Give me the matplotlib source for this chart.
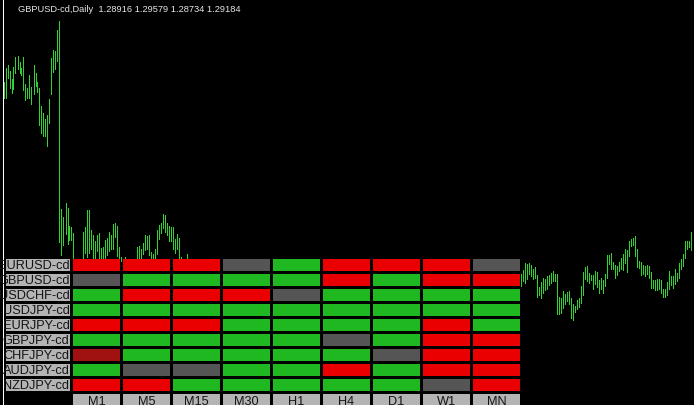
import numpy as np
import matplotlib
matplotlib.use("Agg")
import matplotlib.pyplot as plt
from matplotlib.patches import Rectangle

# ---------------- data ----------------
title_text = "GBPUSD-cd,Daily  1.28916 1.29579 1.28734 1.29184"

nan = float("nan")
# daily bars, left visible segment (bar index 0..92)
left_high = [1.3685, 1.3755, 1.3770, 1.3740, 1.3700, 1.3760, 1.3810, 1.3815, 1.3785, 1.3755,
             1.3810, 1.3675, 1.3655, 1.3720, 1.3660, 1.3770, 1.3730, 1.3685, 1.3655, 1.3565,
             1.3530, 1.3500, 1.3520, 1.3600, 1.3805, 1.3845, 1.3840, 1.3945, 1.3990, 1.3050,
             1.3010, 1.3080, 1.3055, 1.2965, 1.2960, 1.2930, nan, nan, nan, nan,
             1.2935, 1.2960, 1.3045, 1.3045, 1.2945, 1.2920, 1.2890, 1.2920, 1.2930, 1.2855,
             1.2860, 1.2895, 1.2905, 1.2935, 1.2920, 1.2975, 1.2980, 1.2965, 1.2860, 1.2810,
             nan, 1.2810, nan, nan, nan, nan, nan, 1.2860, 1.2865, 1.2850,
             1.2880, 1.2920, 1.2915, 1.2920, 1.2835, 1.2825, 1.2850, 1.2945, 1.2970, 1.2980,
             1.3025, 1.3020, 1.2980, 1.2965, 1.2960, 1.2960, 1.2900, 1.2925, 1.2905, 1.2810,
             nan, nan, 1.2825]
left_low = [1.3605, 1.3605, 1.3705, 1.3655, 1.3630, 1.3650, 1.3730, 1.3750, 1.3730, 1.3720,
            1.3645, 1.3595, 1.3605, 1.3605, 1.3575, 1.3625, 1.3665, 1.3635, 1.3470, 1.3430,
            1.3415, 1.3415, 1.3365, 1.3480, 1.3625, 1.3735, 1.3750, 1.3790, 1.2885, 1.2820,
            1.2870, 1.2925, 1.2875, 1.2895, 1.2895, 1.2790, nan, nan, nan, nan,
            1.2790, 1.2830, 1.2810, 1.2830, 1.2850, 1.2790, 1.2790, 1.2840, 1.2790, 1.2790,
            1.2790, 1.2790, 1.2820, 1.2840, 1.2850, 1.2850, 1.2910, 1.2815, 1.2790, 1.2790,
            nan, 1.2790, nan, nan, nan, nan, nan, 1.2790, 1.2790, 1.2790,
            1.2825, 1.2845, 1.2850, 1.2820, 1.2790, 1.2790, 1.2790, 1.2825, 1.2900, 1.2930,
            1.2955, 1.2935, 1.2920, 1.2890, 1.2890, 1.2850, 1.2830, 1.2850, 1.2790, 1.2790,
            nan, nan, 1.2790]
hidden_count = 166          # bars 93..258 lie under the panel
# right visible segment (bar index 259..344)
right_high = [1.2725, 1.2745, 1.2780, 1.2775, 1.2780, 1.2770, 1.2750, 1.2760, 1.2720, 1.2660,
              1.2685, 1.2705, 1.2700, 1.2715, 1.2720, 1.2730, 1.2740, 1.2725, 1.2725, 1.2610,
              1.2605, 1.2640, 1.2625, 1.2635, 1.2640, 1.2605, 1.2575, 1.2565, 1.2595, 1.2605,
              1.2665, 1.2735, 1.2760, 1.2765, 1.2730, 1.2720, 1.2720, 1.2740, 1.2735, 1.2695,
              1.2705, 1.2695, 1.2725, 1.2820, 1.2820, 1.2830, 1.2785, 1.2770, 1.2765, 1.2785,
              1.2805, 1.2825, 1.2850, 1.2845, 1.2890, 1.2900, 1.2905, 1.2915, 1.2850, 1.2790,
              1.2785, 1.2770, 1.2765, 1.2770, 1.2765, 1.2735, 1.2695, 1.2695, 1.2700, 1.2700,
              1.2695, 1.2650, 1.2650, 1.2685, 1.2740, 1.2715, 1.2715, 1.2750, 1.2730, 1.2780,
              1.2800, 1.2825, 1.2890, 1.2890, 1.2890, 1.2935]
right_low = [1.2665, 1.2690, 1.2680, 1.2700, 1.2725, 1.2715, 1.2700, 1.2705, 1.2610, 1.2620,
             1.2605, 1.2630, 1.2645, 1.2650, 1.2670, 1.2680, 1.2690, 1.2690, 1.2525, 1.2525,
             1.2530, 1.2555, 1.2575, 1.2590, 1.2575, 1.2505, 1.2495, 1.2535, 1.2550, 1.2560,
             1.2580, 1.2620, 1.2700, 1.2690, 1.2680, 1.2695, 1.2650, 1.2675, 1.2660, 1.2630,
             1.2650, 1.2630, 1.2665, 1.2705, 1.2775, 1.2750, 1.2750, 1.2705, 1.2720, 1.2740,
             1.2750, 1.2745, 1.2780, 1.2735, 1.2815, 1.2865, 1.2870, 1.2815, 1.2760, 1.2755,
             1.2720, 1.2725, 1.2715, 1.2725, 1.2705, 1.2655, 1.2655, 1.2645, 1.2645, 1.2650,
             1.2630, 1.2610, 1.2610, 1.2620, 1.2650, 1.2670, 1.2655, 1.2675, 1.2690, 1.2705,
             1.2750, 1.2765, 1.2805, 1.2850, 1.2860, 1.2845]

pairs = ["EURUSD-cd", "GBPUSD-cd", "USDCHF-cd", "USDJPY-cd", "EURJPY-cd",
         "GBPJPY-cd", "CHFJPY-cd", "AUDJPY-cd", "NZDJPY-cd"]
timeframes = ["M1", "M5", "M15", "M30", "H1", "H4", "D1", "W1", "MN"]
# R = down, G = up, N = neutral, D = strong down
signals = [
    "RRRNGRRRN",
    "NGGGGRGRR",
    "GRRRNGGGG",
    "GGGGGGGGG",
    "RRRGGGGRG",
    "GGGGGNGRR",
    "DGGGGGNRR",
    "GNNGGRGRR",
    "RRGGGGGNR",
]

# ---------------- style ----------------
BG = "black"
BAR_COLOR = "#32d232"
SIG_COLORS = {"R": "#ea0000", "G": "#20b820", "N": "#555555", "D": "#a01212"}
LABEL_BG = "#b4b4b4"
LABEL_FG = "#141414"

highs = np.array(left_high + [nan] * hidden_count + right_high)
lows = np.array(left_low + [nan] * hidden_count + right_low)
idx = np.arange(len(highs))

W, H = 694, 406
fig = plt.figure(figsize=(W / 100, H / 100), dpi=100, facecolor=BG)

# price chart
ax = fig.add_axes([0, 0, 1, 1])
ax.set_facecolor(BG)
ax.vlines(idx, lows, highs, colors=BAR_COLOR, linewidth=0.55, antialiased=False)
ax.set_xlim(-1.75, 345.25)
ax.set_ylim(1.207, 1.41)
ax.axis("off")

# signal panel (column / row units)
ax2 = fig.add_axes([0, 0, 1, 1])
ax2.patch.set_alpha(0)
ax2.set_xlim(-73 / 50, (W - 73) / 50)
ax2.set_ylim((H - 260) / 15, -260 / 15)
ax2.axis("off")

ax2.axvline(-70.5 / 50, color="white", linewidth=0.7, antialiased=False)

cw, ch = 0.94, 0.8
for r, (pair, row) in enumerate(zip(pairs, signals)):
    for c, s in enumerate(row):
        ax2.add_patch(Rectangle((c, r), cw, ch, facecolor=SIG_COLORS[s],
                                edgecolor="none", antialiased=False))
    lab = Rectangle((-1.34, r), 1.28, ch, facecolor=LABEL_BG, edgecolor="none",
                    antialiased=False)
    ax2.add_patch(lab)
    t = ax2.text(-0.07, r + ch / 2 + 0.03, pair, ha="right", va="center",
                 fontsize=9.2, family="Liberation Sans", color=LABEL_FG)
    t.set_clip_path(lab)

hr = len(pairs)
for c, tf in enumerate(timeframes):
    ax2.add_patch(Rectangle((c, hr), cw, ch, facecolor=LABEL_BG, edgecolor="none",
                            antialiased=False))
    ax2.text(c + cw / 2, hr + ch / 2 + 0.05, tf, ha="center", va="center",
             fontsize=9.2, family="Liberation Sans", color=LABEL_FG)

fig.text(18 / W, 1 - 10 / H, title_text, ha="left", va="center",
         fontsize=6.7, family="Liberation Sans", color="#e6e6e6")

fig.savefig("out.png", dpi=100, facecolor=BG)
